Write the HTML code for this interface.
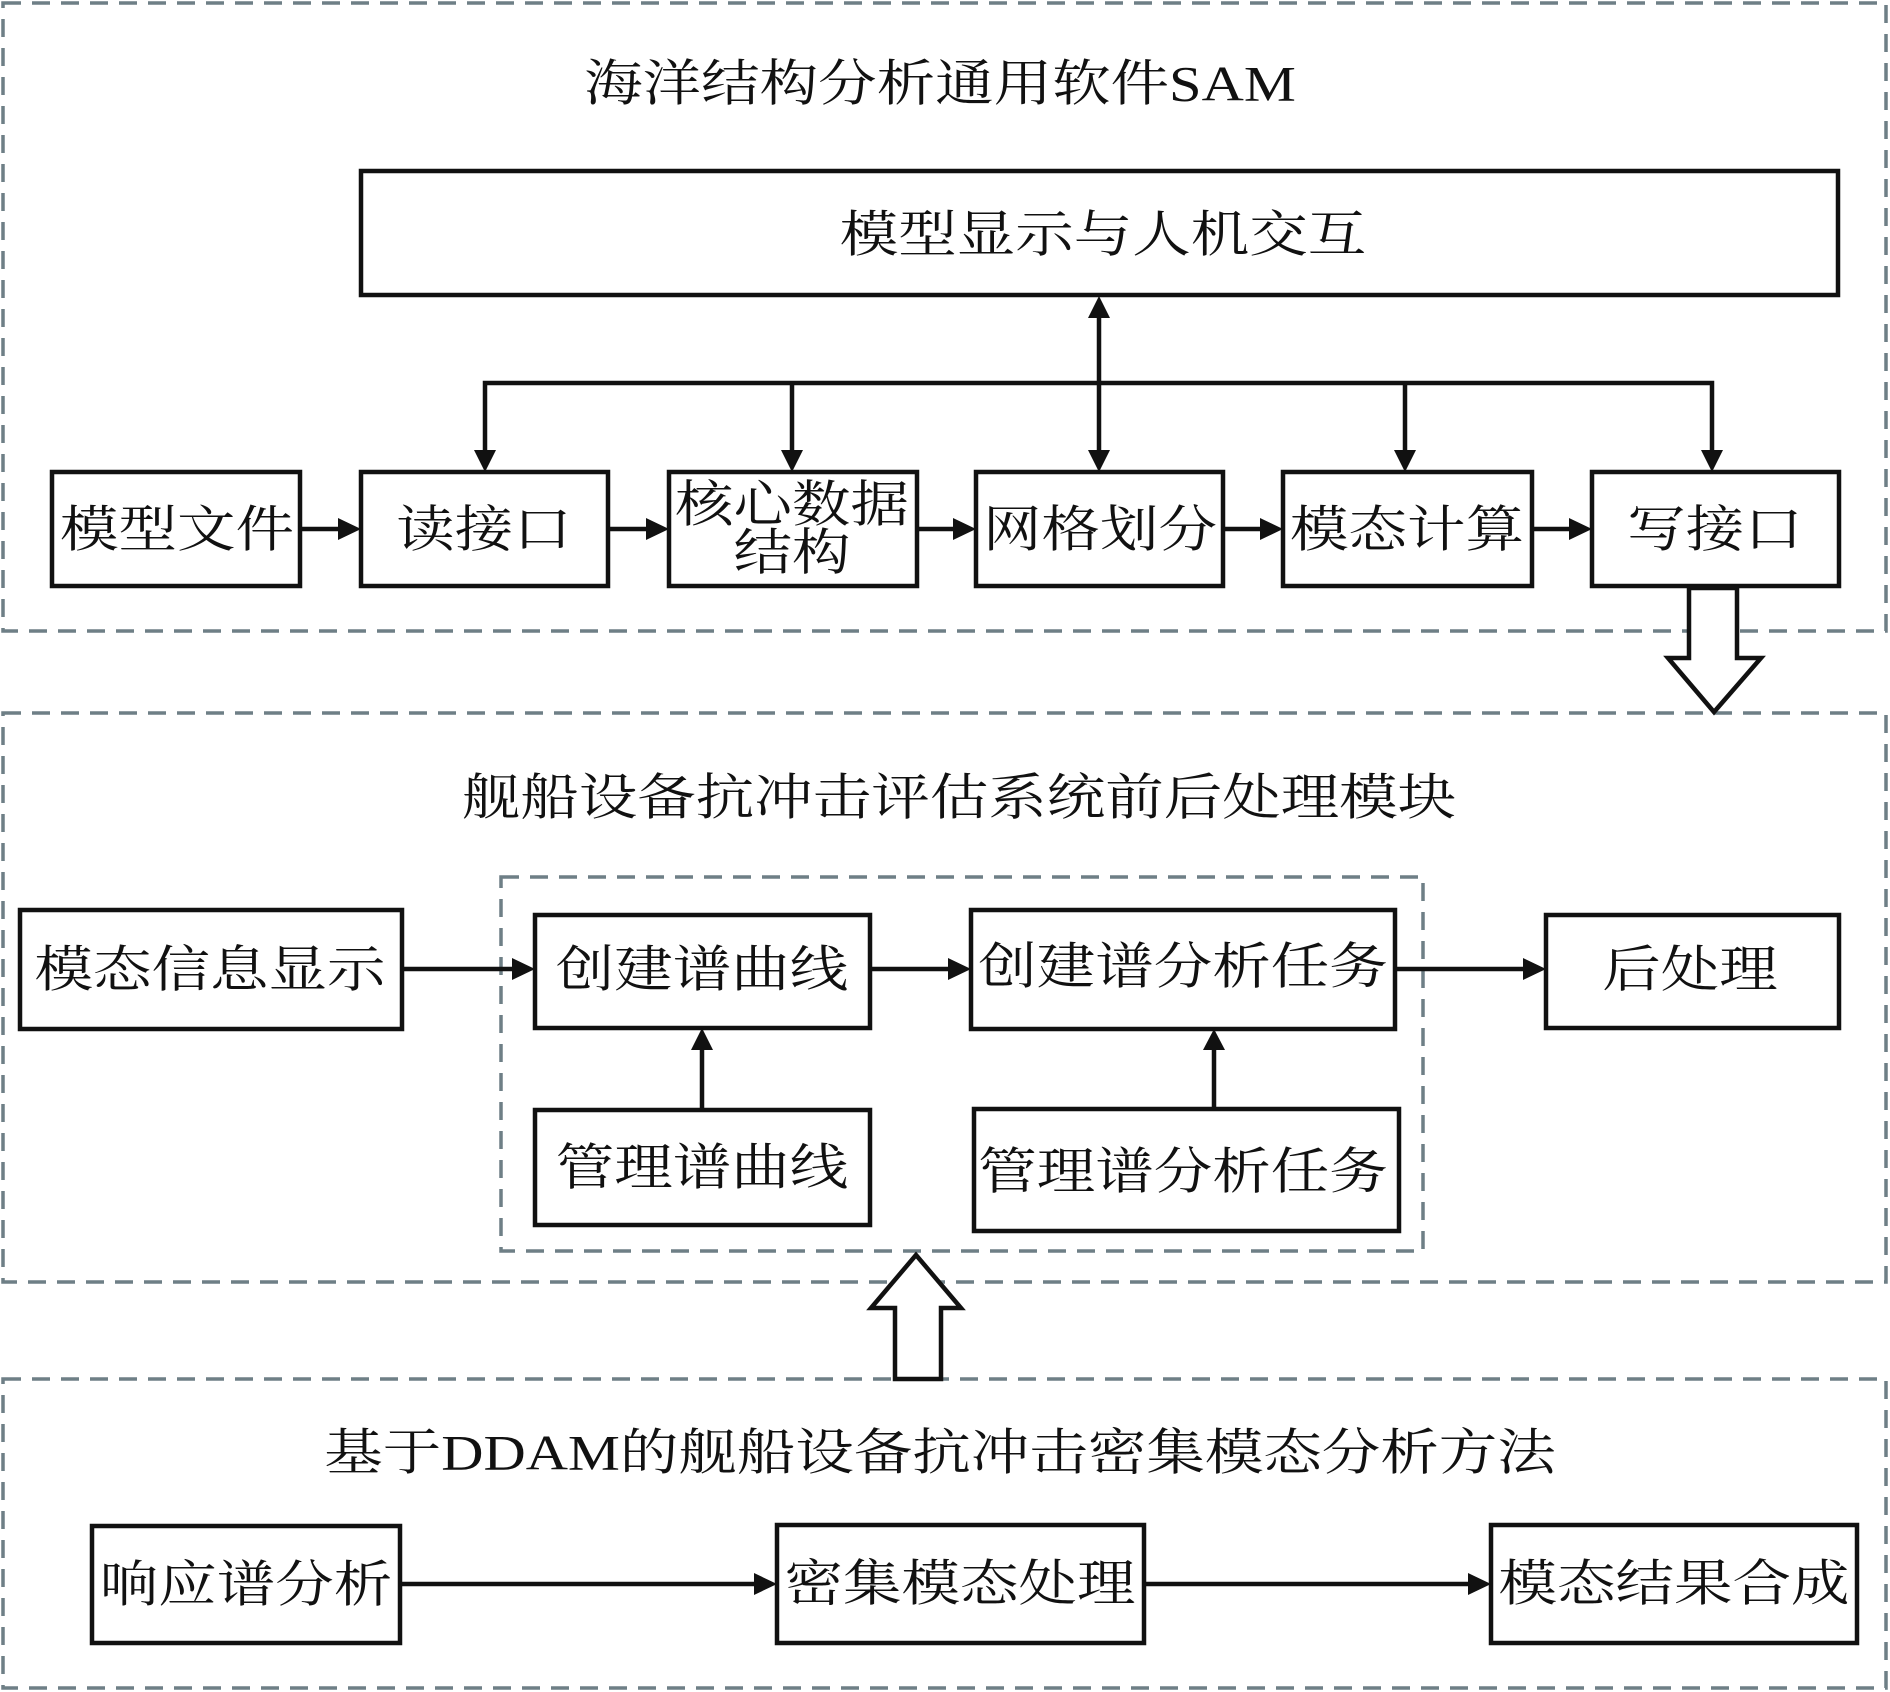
<!DOCTYPE html>
<html><head><meta charset="utf-8"><style>html,body{margin:0;padding:0;background:#fff}svg{display:block}text{font-family:"Liberation Serif","Noto Serif CJK SC",serif;fill:#111}</style></head>
<body>
<svg width="1890" height="1692" viewBox="0 0 1890 1692" xmlns="http://www.w3.org/2000/svg">
<defs>
<marker id="a" viewBox="0 0 10 10" refX="10" refY="5" markerWidth="6" markerHeight="6" markerUnits="userSpaceOnUse" orient="auto"></marker>
</defs>
<g fill="none" stroke="#6e7f86" stroke-width="3.5" stroke-dasharray="18 11">
<rect x="3" y="3" width="1883" height="628"/>
<rect x="3" y="713" width="1883" height="569"/>
<rect x="501" y="877" width="922" height="374"/>
<rect x="3" y="1379" width="1883" height="309"/>
</g>
<g fill="#fff" stroke="#111" stroke-width="4.5">
<rect x="361" y="171" width="1477" height="124"/>
<rect x="52" y="472" width="248" height="114"/>
<rect x="361" y="472" width="247" height="114"/>
<rect x="669" y="472" width="248" height="114"/>
<rect x="976" y="472" width="247" height="114"/>
<rect x="1283" y="472" width="249" height="114"/>
<rect x="1592" y="472" width="247" height="114"/>
<rect x="20" y="910" width="382" height="119"/>
<rect x="535" y="915" width="335" height="113"/>
<rect x="971" y="910" width="424" height="119"/>
<rect x="1546" y="915" width="293" height="113"/>
<rect x="535" y="1110" width="335" height="115"/>
<rect x="974" y="1109" width="425" height="122"/>
<rect x="92" y="1526" width="308" height="117"/>
<rect x="777" y="1525" width="367" height="118"/>
<rect x="1491" y="1525" width="366" height="118"/>
</g>
<g stroke="#111" stroke-width="4.5" fill="none">
<polyline points="485,450 485,383 1712,383 1712,450"/>
<line x1="792" y1="383" x2="792" y2="450"/>
<line x1="1405" y1="383" x2="1405" y2="450"/>
<line x1="1099" y1="318" x2="1099" y2="450"/>
<line x1="300" y1="529" x2="340" y2="529"/>
<line x1="608" y1="529" x2="648" y2="529"/>
<line x1="917" y1="529" x2="955" y2="529"/>
<line x1="1223" y1="529" x2="1262" y2="529"/>
<line x1="1532" y1="529" x2="1571" y2="529"/>
<line x1="402" y1="969" x2="514" y2="969"/>
<line x1="870" y1="969" x2="950" y2="969"/>
<line x1="1395" y1="969" x2="1525" y2="969"/>
<line x1="702" y1="1110" x2="702" y2="1050"/>
<line x1="1214" y1="1109" x2="1214" y2="1050"/>
<line x1="400" y1="1584" x2="756" y2="1584"/>
<line x1="1144" y1="1584" x2="1470" y2="1584"/>
</g>
<g fill="#111">
<polygon points="474,450 496,450 485,472"/>
<polygon points="781,450 803,450 792,472"/>
<polygon points="1088,450 1110,450 1099,472"/>
<polygon points="1394,450 1416,450 1405,472"/>
<polygon points="1701,450 1723,450 1712,472"/>
<polygon points="1088,318 1110,318 1099,296"/>
<polygon points="338,518 338,540 361,529"/>
<polygon points="646,518 646,540 669,529"/>
<polygon points="953,518 953,540 976,529"/>
<polygon points="1260,518 1260,540 1283,529"/>
<polygon points="1569,518 1569,540 1592,529"/>
<polygon points="512,958 512,980 535,969"/>
<polygon points="948,958 948,980 971,969"/>
<polygon points="1523,958 1523,980 1546,969"/>
<polygon points="691,1050 713,1050 702,1028"/>
<polygon points="1203,1050 1225,1050 1214,1029"/>
<polygon points="754,1573 754,1595 777,1584"/>
<polygon points="1468,1573 1468,1595 1491,1584"/>
</g>
<g fill="#fff" stroke="#111" stroke-width="4.5" stroke-linejoin="miter">
<polygon points="1689,588 1737,588 1737,658 1761,658 1714,712 1668,658 1689,658"/>
<polygon points="895,1379 941,1379 941,1308 961,1308 916,1255 871,1308 895,1308"/>
</g>
<g font-size="50" text-anchor="middle" dominant-baseline="central">
<text transform="translate(940,84) scale(1.17,1)">海洋结构分析通用软件SAM</text>
<text transform="translate(1103,235) scale(1.17,1)">模型显示与人机交互</text>
<text transform="translate(177,530) scale(1.17,1)">模型文件</text>
<text transform="translate(484,530) scale(1.17,1)">读接口</text>
<text transform="translate(792,505) scale(1.17,1)">核心数据</text>
<text transform="translate(792,553) scale(1.17,1)">结构</text>
<text transform="translate(1100,530) scale(1.17,1)">网格划分</text>
<text transform="translate(1407,530) scale(1.17,1)">模态计算</text>
<text transform="translate(1715,530) scale(1.17,1)">写接口</text>
<text transform="translate(959,798) scale(1.17,1)">舰船设备抗冲击评估系统前后处理模块</text>
<text transform="translate(210,970) scale(1.17,1)">模态信息显示</text>
<text transform="translate(702,970) scale(1.17,1)">创建谱曲线</text>
<text transform="translate(1183,967) scale(1.17,1)">创建谱分析任务</text>
<text transform="translate(1690,970) scale(1.17,1)">后处理</text>
<text transform="translate(702,1168) scale(1.17,1)">管理谱曲线</text>
<text transform="translate(1183,1172) scale(1.17,1)">管理谱分析任务</text>
<text transform="translate(940,1453) scale(1.17,1)">基于DDAM的舰船设备抗冲击密集模态分析方法</text>
<text transform="translate(246,1585) scale(1.17,1)">响应谱分析</text>
<text transform="translate(960,1584) scale(1.17,1)">密集模态处理</text>
<text transform="translate(1674,1584) scale(1.17,1)">模态结果合成</text>
</g>
</svg>
</body></html>
